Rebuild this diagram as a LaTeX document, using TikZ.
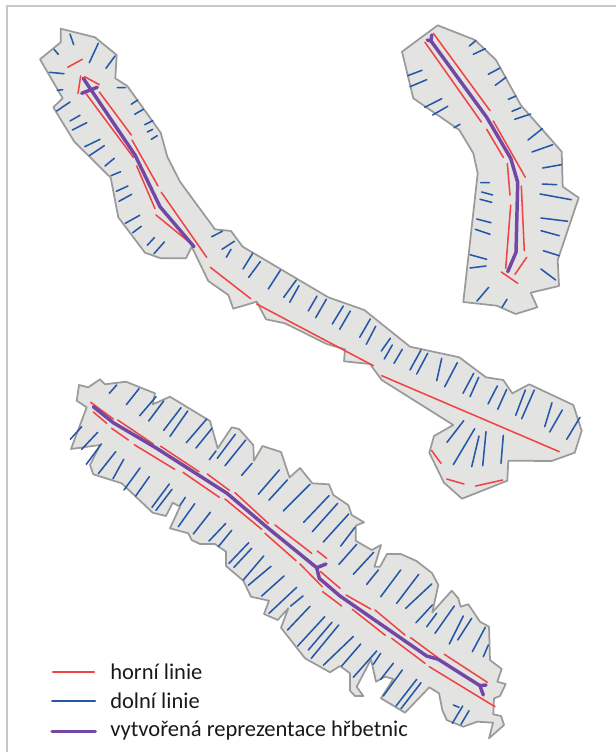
\documentclass[tikz,border=0pt]{standalone}
\usepackage{fontspec}
\setmainfont{Carlito}
\definecolor{plocha}{HTML}{E3E3E2}
\definecolor{obrys}{HTML}{9A9A9A}
\definecolor{ramec}{HTML}{C8C8C8}
\definecolor{cervena}{HTML}{F04444}
\definecolor{modra}{HTML}{2457A8}
\definecolor{fialova}{HTML}{7347A4}
\begin{document}
\begin{tikzpicture}[x=0.75pt,y=-0.75pt,
  oblast/.style={draw=obrys,fill=plocha,line width=1.3pt,line join=round},
  horni/.style={draw=cervena,line width=1.15pt,line cap=round},
  dolni/.style={draw=modra,line width=1.15pt,line cap=round},
  hrbet/.style={draw=fialova,line width=2.6pt,line cap=round,line join=round},
  popis/.style={anchor=base west,font=\fontsize{16.9}{20}\selectfont,text=black!90,inner sep=0pt}]
\useasboundingbox (0,0) rectangle (616,752);

% Frame, top and left only
\draw[ramec,line width=1pt] (616,6) -- (7,6) -- (7,752);

% Polygon with the long ridge
\draw[oblast] (60.7,28.7) -- (95,37.3) -- (116.7,55) -- (115.3,78.3) -- (127.3,86) -- (160.7,132.7)
  -- (167.3,156.7) -- (180,181.7) -- (215,229.3) -- (231,231) -- (242.7,246.7) -- (328.3,297.3)
  -- (364.3,310) -- (410,346.7) -- (459.3,357.3) -- (486,377.3) -- (503.3,380) -- (512.3,393.3)
  -- (529.3,384.3) -- (573.3,405) -- (581.7,430.7) -- (574.7,452.7) -- (551.7,461) -- (508.3,460.7)
  -- (507.3,480.7) -- (462,498.7) -- (444,482.7) -- (429.3,452.7) -- (434,436) -- (453.3,425)
  -- (381.7,380) -- (370,364) -- (344,361.3) -- (345,349.3) -- (326.7,344) -- (285,323.3)
  -- (266,319.3) -- (256.7,301.7) -- (233.3,308.7) -- (228.3,295) -- (208.3,281) -- (191.7,246.7)
  -- (186,258.3) -- (160.7,258.3) -- (145,252.7) -- (118.3,217.3) -- (110.7,177.7) -- (74.3,141.7)
  -- (53.3,107.3) -- (62.7,98.3) -- (40,59.3) -- (60.7,42.3) -- cycle;

% Polygon top right
\draw[oblast] (437.7,25.3) -- (475,40) -- (496,60) -- (520.7,105) -- (561.7,151.7) -- (562.7,186.7)
  -- (578.7,197.7) -- (557.7,260) -- (559,286) -- (530.7,292.7) -- (537.3,307.3) -- (515.7,314)
  -- (496.7,305.7) -- (463.3,302) -- (477.7,173.3) -- (473.3,153.3) -- (459.3,130) -- (413.3,98.3)
  -- (402,51.7) -- cycle;

% Polygon at the bottom
\draw[oblast] (79,385) -- (88.3,387.3) -- (100,379.3) -- (105,384.3) -- (126,381.7) -- (155,393.3)
  -- (152.7,404.3) -- (170,396.7) -- (210,421) -- (217.7,448.3) -- (231.7,427.3) -- (239,429)
  -- (253.3,445) -- (254,460.7) -- (262.5,446) -- (281,452) -- (289.5,477.5) -- (300,468)
  -- (312.3,483.3) -- (329,484.3) -- (333.3,495) -- (348.3,505) -- (351.7,515) -- (364,522.3)
  -- (355.7,525.7) -- (355.7,540.7) -- (371.7,550) -- (381,545) -- (374.5,566.7) -- (380,566.7)
  -- (387,554) -- (400.8,554) -- (416.5,561) -- (432,573) -- (438.3,585) -- (432.3,612.3) -- (451.7,590.7)
  -- (458.3,598.3) -- (460.7,606.7) -- (468.3,604.3) -- (480,621.7) -- (489,626.7) -- (490,660)
  -- (501.7,669) -- (497.3,681.7) -- (505.7,684) -- (500,696) -- (494,698.3) -- (493.3,714.3)
  -- (501,716) -- (504,725) -- (489,738.3) -- (493,722.7) -- (477.3,721.7) -- (463.3,726.7)
  -- (446.7,720) -- (442.3,710) -- (439,693.3) -- (429.3,687.3) -- (405,712.7) -- (381,698.3)
  -- (393.3,679) -- (385,676.7) -- (376,681.7) -- (371,659.3) -- (356.7,686.7) -- (363.3,696)
  -- (355,696) -- (350,690.7) -- (350,673.3) -- (340,666) -- (330,672.3) -- (305,658.3)
  -- (281,627.7) -- (288.3,608.3) -- (277.7,620) -- (264,614) -- (269,600.7) -- (251,596.7)
  -- (243.3,580.7) -- (226,566) -- (226,551.7) -- (215,544) -- (200,544) -- (191.7,540)
  -- (188.3,533.3) -- (170,528.3) -- (180,506.7) -- (172.7,502.7) -- (166,516) -- (152.7,512.7)
  -- (121.7,483.3) -- (93.3,474.3) -- (90,465) -- (100,445) -- (71,449) -- (86.7,407.3)
  -- (76.7,400.7) -- cycle;

% Blue lines, long polygon
\draw[dolni] (70,34) -- (73.7,44.7) (54,49.3) -- (58.3,54.3) (89.3,62.7) -- (98.3,43.3)
  (106,68.3) -- (115,56) (49.3,72.3) -- (64,73.7) (57.3,90.3) -- (62.7,89.7)
  (117.3,87.7) -- (125.3,87.7) (131.3,104.3) -- (137.7,100) (134.7,114.3) -- (143.3,109.3)
  (144.7,124.7) -- (152.7,120.7) (147.3,132) -- (152.7,129.3) (151.3,139.3) -- (157.3,135.7)
  (56.7,111) -- (70,102) (70,121) -- (80,115.3) (72.3,130) -- (86.7,122.7)
  (84.7,146.7) -- (100,139.3) (89.3,155.7) -- (104.3,145.7) (105,166) -- (114.3,158.3)
  (111,175.7) -- (120.7,171.7) (116.3,191.3) -- (128,186) (119,201.3) -- (131.7,194.3)
  (125.3,223.3) -- (139.7,215.3) (132.7,232.7) -- (141.3,226.3) (147.3,245.3) -- (154.3,237.7)
  (154,253.7) -- (164.3,242) (211.7,236.7) -- (222.3,231.3) (222,249.3) -- (234.3,241.3)
  (226.3,257.3) -- (231,249.3) (243,269) -- (252.7,253.3) (248.7,277.3) -- (260.3,261.7)
  (268.3,289) -- (280.3,270.3) (283.7,297.3) -- (296.3,280) (289.7,302.3) -- (299,285.7)
  (308.3,311) -- (317,296) (315.7,317.7) -- (326.3,299.3) (332.3,324) -- (343.3,306)
  (339.7,329.3) -- (350.3,311) (359.7,337.3) -- (370.3,319) (366.3,344.3) -- (375.7,326.3)
  (381.3,351) -- (390.3,338.3) (384.3,359) -- (392.3,345) (394,363.3) -- (402.3,349.3)
  (410,370) -- (421,350) (416.7,374) -- (427.7,353.3) (436.7,380.7) -- (441.7,358.3)
  (444.7,386.7) -- (457.3,362.7) (463,393.3) -- (473.7,373.3) (470,396.7) -- (478.7,377.3)
  (488,404) -- (497.3,386) (497.7,409.3) -- (506.7,389.3) (515.7,415.3) -- (525.3,390)
  (521.7,418.7) -- (534.3,390) (544.7,426.7) -- (552,402.7) (549.7,432) -- (562.3,410)
  (566.7,439.3) -- (580,417.3) (447,442.3) -- (463.7,420.7) (453.3,464.7) -- (474.7,428.7)
  (471.7,466.7) -- (479,436) (482.7,465.7) -- (486,431.7) (501,463.3) -- (503.3,435.3);

% Red lines, long polygon
\draw[horni] (67.7,67.3) -- (82.3,59.3) (80.7,76) -- (78,93.3) (84.7,76.7) -- (99.3,84.7)
  (99.3,92) -- (131.3,135) (86.3,94) -- (133.3,157.3) (132,140) -- (158,186)
  (136.7,166) -- (155,208.7) (161.3,192.3) -- (206.7,257.3) (156,215) -- (194,246)
  (210.3,267.3) -- (250.7,298.7) (256.7,304) -- (373.3,365.7) (381.7,375.7) -- (559.3,451.7)
  (431.7,450.7) -- (441,463.3) (446.7,479) -- (464,484) (475.7,486) -- (502.7,480);

% Ridge, long polygon
\draw[hrbet] (83.3,78.3) -- (135,155) -- (160,206.7) -- (194,246.7);
\draw[hrbet] (81.7,93.3) -- (97.3,87.3);

% Blue lines, top right
\draw[dolni] (469.3,46) -- (475.7,40.7) (473.3,54.3) -- (485.3,48.7) (488.3,74.3) -- (500,68)
  (495.3,85.3) -- (506,77.3) (508.3,99.3) -- (516,96) (512,111.3) -- (520.7,107.7)
  (514.7,119.3) -- (530.7,114) (528,140) -- (542.3,128.7) (532,152) -- (552.7,144.7)
  (542.7,168) -- (561.3,164.7) (542.3,184) -- (556.7,184.7) (540,194) -- (571.3,199.7)
  (541,218) -- (567.7,221.3) (541,230.7) -- (559.3,235.7) (543.3,250.7) -- (559.3,255.7)
  (541,269) -- (555.7,280) (407.7,75.7) -- (422,70.3) (410,86.7) -- (426.7,79.7)
  (424.7,107.3) -- (441.7,98.7) (432.7,115) -- (447.7,106.3) (454,127.7) -- (460,124.3)
  (480.7,182.7) -- (489.3,182.7) (481.7,192) -- (492.7,195) (480,199.3) -- (491.7,202.3)
  (476.7,219) -- (491,222.7) (475.3,229.3) -- (490,234.3) (470,254.7) -- (486.7,259.3)
  (470,268) -- (486,266) (477,301) -- (488.7,287.3) (502,307.3) -- (507,299.3);

% Red lines, top right
\draw[horni] (433.3,33.3) -- (490,110.7) (425,42.3) -- (481.3,122) (493.3,121) -- (525.3,177.3)
  (486.7,129.3) -- (503.3,157.3) (507.3,163.3) -- (510,195) (521.3,186) -- (524.3,250.7)
  (510.7,205) -- (505.7,268.3) (526.7,257.3) -- (515,274.3) (501.3,272) -- (517.7,283.3);

% Ridge, top right
\draw[hrbet] (431.7,35) -- (431,41) -- (486.7,117.3) -- (510.7,158.3) -- (517.7,182.3)
  -- (516,252.3) -- (507.7,271.7);
\draw[hrbet] (427.3,40) -- (431,41);

% Blue lines, bottom polygon
\draw[dolni] (109.3,393.3) -- (116.7,385) (126.3,404.7) -- (139,388.7) (139.7,415.7) -- (156,396.7)
  (148.7,421) -- (163.7,401) (163.7,430.3) -- (181,407.7) (170,436.3) -- (187.7,411)
  (186.3,442.7) -- (206.7,419) (196,448) -- (212,428.3) (209.3,459.7) -- (216,451)
  (217.3,458.3) -- (235.3,434.3) (225,465.7) -- (245.7,440) (241.7,475.3) -- (252,463.3)
  (258.3,494.3) -- (279.3,470) (269,500) -- (287.3,480) (283.3,511) -- (310,484.3)
  (303.7,522.3) -- (329,495.7) (312.3,531.7) -- (337.7,503.3) (323.3,542) -- (348.7,514)
  (340.7,546) -- (355,527.3) (339,564.3) -- (356.7,544.3) (353.3,574.3) -- (373.7,552.3)
  (366.7,584.3) -- (378.3,570) (380.7,596.7) -- (400.7,570) (396.7,603.3) -- (418.7,574.3)
  (405.7,608.3) -- (431.7,584) (416,622.7) -- (432.3,605) (426.7,626.7) -- (436.7,613.3)
  (435,633.3) -- (454.3,606) (449.3,644) -- (463.3,616) (457.7,640) -- (471.7,618.3)
  (472.3,651.7) -- (485.3,627.3) (483.3,656.7) -- (488.3,645)
  (70.3,439.3) -- (81.7,426.7) (81.7,449.3) -- (97.7,432.3) (86.3,464.3) -- (101.3,444)
  (98.3,473.7) -- (115.7,451.7) (113,478.7) -- (123.7,459.3) (124,490) -- (140,468)
  (135.7,496) -- (149.3,476.7) (152,507.3) -- (169.3,484) (156,510.3) -- (172,489.3)
  (180,505.3) -- (185.3,497.3) (178.3,526.7) -- (194.7,503.7) (193.3,534) -- (210.3,512.3)
  (209,541) -- (225.7,523.5) (218.3,546.7) -- (231.7,530.3) (229,563.3) -- (248.7,542.7)
  (234,567.3) -- (251.7,548.3) (243.3,580) -- (263.7,556) (248.3,585.3) -- (271,566.3)
  (261.7,596) -- (284,576) (269,613.3) -- (296.7,587.3) (290.7,606) -- (303,596)
  (287.5,630) -- (310,606.3) (297.7,646) -- (324.7,616.7) (308.3,650) -- (332,622.3)
  (311.3,658.3) -- (338.7,625) (323.3,665.3) -- (353.3,636.5) (341.7,666) -- (360.7,644)
  (353.3,677.3) -- (376.7,651) (373.3,664.3) -- (380.7,653.3) (380.7,679.3) -- (393.3,663.3)
  (383.3,696) -- (402.3,670) (396,706) -- (416.7,679.3) (401,708.7) -- (421,682.7)
  (453.3,705) -- (459,707.3) (452.3,723.3) -- (462.7,706) (461,724.3) -- (469,710.7);

% Red lines, bottom polygon
\draw[horni] (90.7,402.3) -- (113.3,419) (93.3,412) -- (106.7,423.3) (117.7,420) -- (153.3,444)
  (111.7,428.3) -- (128.3,440) (134.3,444.7) -- (174.7,469.3) (160.7,446.3) -- (199,471.7)
  (183,472.3) -- (219.3,497.3) (207.3,474) -- (229.3,490.3) (235,492.7) -- (268.3,523.3)
  (225,499) -- (261.7,529.3) (275,525) -- (311.7,553.3) (265,533.3) -- (296,560.7)
  (317.3,551) -- (326.7,558.3) (300,564) -- (322.3,586.7) (320.7,571.7) -- (340,588.3)
  (322.7,591.7) -- (341.7,606) (346,595) -- (370.7,609) (375,610) -- (405,635)
  (352.3,609.3) -- (385.3,635.3) (391.7,638.3) -- (425,663.3) (410.7,637.7) -- (437.3,657.3)
  (444.3,654.3) -- (487.3,682.3) (429.3,666.7) -- (495,706.7);

% Ridge, bottom polygon
\draw[hrbet] (93.3,406.7) -- (113.3,422.7) -- (156.7,448.3) -- (227,493.3) -- (268.3,528.3)
  -- (316.7,567.7) -- (319.3,578.3) -- (340,596) -- (426.7,656) -- (438.3,659.3) -- (480,685.7)
  -- (483.3,695);
\draw[hrbet] (316.7,567.7) -- (326,564);
\draw[hrbet] (480,685.7) -- (486,685);

% Legend
\node[popis] (hornitext) at (110,679) {horní linie};
\node[popis] (dolnitext) at (110,708) {dolní linie};
\node[popis] (hrbettext) at (110,736.5) {vytvořená reprezentace hřbetnic};
\coordinate (hornia) at (52.7,672);
\coordinate (hornib) at (94.3,672);
\coordinate (dolnia) at (52,701);
\coordinate (dolnib) at (95.3,701);
\coordinate (hrbeta) at (52,731.3);
\coordinate (hrbetb) at (95.3,731.3);
\draw[horni] (hornia) -- (hornib);
\draw[dolni] (dolnia) -- (dolnib);
\draw[hrbet] (hrbeta) -- (hrbetb);
\end{tikzpicture}
\end{document}
